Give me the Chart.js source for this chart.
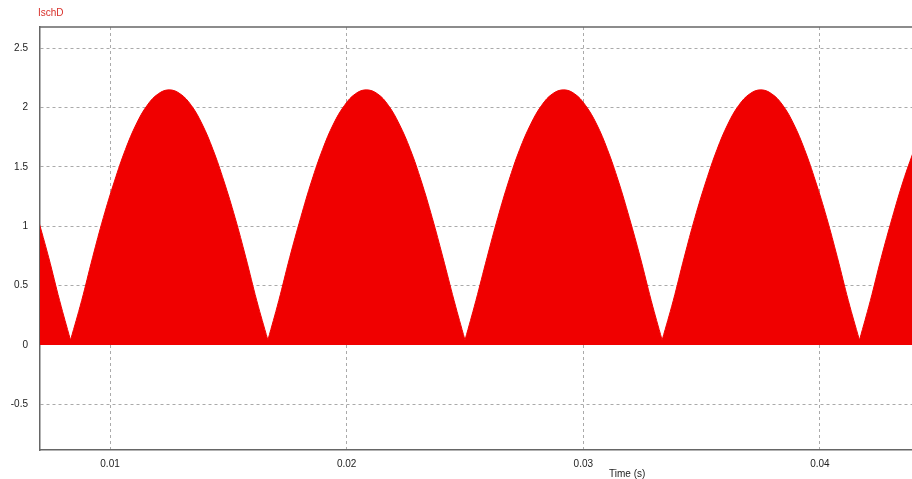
<!DOCTYPE html>
<html>
<head>
<meta charset="utf-8">
<script src="https://cdn.jsdelivr.net/npm/chart.js@4/dist/chart.umd.min.js"></script>
<style>
  html, body { margin: 0; padding: 0; background: #fff; }
  #wrap { width: 912px; height: 479px; }
</style>
</head>
<body>
<div id="wrap"><canvas id="ischChart"></canvas></div>
<script>
// envelope of IschD (time in s, current in A)
// each cusp is listed twice so the smoothed curve keeps a sharp V there
var timeS = [
  0.00694, 0.00741, 0.00787,
  0.00833, 0.00833, 0.00880, 0.00926, 0.00972, 0.01019, 0.01065, 0.01111, 0.01157, 0.01204, 0.01250,
  0.01296, 0.01343, 0.01389, 0.01435, 0.01481, 0.01528, 0.01574, 0.01620,
  0.01667, 0.01667, 0.01713, 0.01759, 0.01806, 0.01852, 0.01898, 0.01944, 0.01991, 0.02037, 0.02083,
  0.02130, 0.02176, 0.02222, 0.02269, 0.02315, 0.02361, 0.02407, 0.02454,
  0.02500, 0.02500, 0.02546, 0.02593, 0.02639, 0.02685, 0.02731, 0.02778, 0.02824, 0.02870, 0.02917,
  0.02963, 0.03009, 0.03056, 0.03102, 0.03148, 0.03194, 0.03241, 0.03287,
  0.03333, 0.03333, 0.03380, 0.03426, 0.03472, 0.03519, 0.03565, 0.03611, 0.03657, 0.03704, 0.03750,
  0.03796, 0.03843, 0.03889, 0.03935, 0.03981, 0.04028, 0.04074, 0.04120,
  0.04167, 0.04167, 0.04213, 0.04259, 0.04306, 0.04352, 0.04398
];
var ischD = [
  1.075, 0.735, 0.373,
  0.04, 0.04, 0.373, 0.735, 1.075, 1.382, 1.647, 1.862, 2.020, 2.117, 2.150,
  2.117, 2.020, 1.862, 1.647, 1.382, 1.075, 0.735, 0.373,
  0.04, 0.04, 0.373, 0.735, 1.075, 1.382, 1.647, 1.862, 2.020, 2.117, 2.150,
  2.117, 2.020, 1.862, 1.647, 1.382, 1.075, 0.735, 0.373,
  0.04, 0.04, 0.373, 0.735, 1.075, 1.382, 1.647, 1.862, 2.020, 2.117, 2.150,
  2.117, 2.020, 1.862, 1.647, 1.382, 1.075, 0.735, 0.373,
  0.04, 0.04, 0.373, 0.735, 1.075, 1.382, 1.647, 1.862, 2.020, 2.117, 2.150,
  2.117, 2.020, 1.862, 1.647, 1.382, 1.075, 0.735, 0.373,
  0.04, 0.04, 0.373, 0.735, 1.075, 1.382, 1.647
];
var xTicks = [0.01, 0.02, 0.03, 0.04];
var yTicks = [-0.5, 0, 0.5, 1, 1.5, 2, 2.5];
var xRange = [0.00704, 0.04389];
var yRange = [-0.886, 2.68];

var points = [];
for (var i = 0; i < timeS.length; i++) {
  points.push({ x: timeS[i], y: ischD[i] });
}

var fontFam = "'Liberation Sans', Arial, sans-serif";

// labels and the top frame line
var decor = {
  id: 'decor',
  afterDraw: function(chart) {
    var c = chart.ctx;
    var a = chart.chartArea;
    c.save();
    c.strokeStyle = '#666';
    c.lineWidth = 1.5;
    c.beginPath();
    c.moveTo(a.left, a.top);
    c.lineTo(a.right, a.top);
    c.stroke();
    c.font = '10px ' + fontFam;
    c.fillStyle = '#d8302a';
    c.textBaseline = 'middle';
    c.fillText('IschD', 38, 13);
    c.fillStyle = '#222';
    c.font = '10px ' + fontFam;
    c.fillText('Time (s)', 609, 474);
    c.restore();
  }
};

var ctx = document.getElementById("ischChart").getContext("2d");
var ischChart = new Chart(ctx, {
  type: 'line',
  data: {
    datasets: [{
      label: 'IschD',
      data: points,
      borderColor: 'rgb(240,0,0)',
      backgroundColor: 'rgb(240,0,0)',
      borderWidth: 1,
      pointRadius: 0,
      tension: 0.4,
      fill: 'origin'
    }]
  },
  options: {
    responsive: true,
    maintainAspectRatio: false,
    animation: false,
    layout: { padding: { top: 27, right: 0, left: 0, bottom: 0 } },
    plugins: {
      legend: { display: false },
      tooltip: { enabled: false }
    },
    scales: {
      x: {
        type: 'linear',
        min: xRange[0],
        max: xRange[1],
        afterBuildTicks: function(s) {
          s.ticks = xTicks.map(function(v) { return { value: v }; });
        },
        afterFit: function(s) { s.height = 29; },
        grid: {
          color: '#aaa',
          lineWidth: 1,
          drawTicks: false
        },
        border: { display: true, color: '#666', width: 1.5, dash: [3, 3] },
        ticks: {
          padding: 8,
          color: '#222',
          font: { family: fontFam, size: 10 },
          maxRotation: 0,
          callback: function(v) { return String(v); }
        }
      },
      y: {
        min: yRange[0],
        max: yRange[1],
        afterBuildTicks: function(s) {
          s.ticks = yTicks.map(function(v) { return { value: v }; });
        },
        afterFit: function(s) { s.width = 40; },
        grid: {
          color: '#aaa',
          lineWidth: 1,
          drawTicks: false
        },
        border: { display: true, color: '#666', width: 1.5, dash: [3, 3] },
        ticks: {
          padding: 12,
          color: '#222',
          font: { family: fontFam, size: 10 },
          callback: function(v) { return String(v); }
        }
      }
    }
  },
  plugins: [decor]
});
</script>
</body>
</html>
